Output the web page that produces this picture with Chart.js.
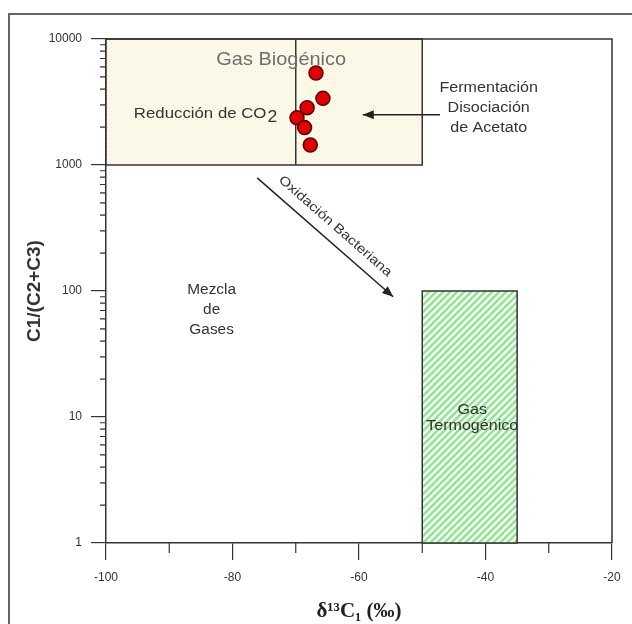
<!DOCTYPE html>
<html>
<head>
<meta charset="utf-8">
<script src="https://cdn.jsdelivr.net/npm/chart.js@4"></script>
<style>
  html, body { margin: 0; padding: 0; background: #fff; }
  #wrap { width: 632px; height: 624px; }
</style>
</head>
<body>
<div id="wrap"><canvas id="chart" width="632" height="624"></canvas></div>
<script>
// sample points: delta13C1 (per mil) and C1/(C2+C3)
const d13C = [-66.8, -65.7, -68.2, -69.8, -68.6, -67.7];
const ratio = [5370, 3380, 2850, 2370, 1980, 1440];

const xTicks = [-100, -80, -60, -40, -20];
const xMinorTicks = [-90, -70, -50, -30];
const yTicks = [1, 10, 100, 1000, 10000];

// genetic fields [xmin, xmax, ymin, ymax]
const biogenicBox = [-100, -50, 1000, 10000];
const co2Divider = -70;
const thermogenicBox = [-50, -35, 1, 100];

const SANS = '"Liberation Sans", Arial, sans-serif';

function dotPattern(ctx) {
  const c = document.createElement('canvas');
  c.width = 4; c.height = 4;
  const g = c.getContext('2d');
  g.fillStyle = '#fffbea';
  g.fillRect(0, 0, 4, 4);
  g.fillStyle = '#f1e9cf';
  g.fillRect(1, 1, 1, 1);
  g.fillRect(3, 3, 1, 1);
  return ctx.createPattern(c, 'repeat');
}

function hatchPattern(ctx) {
  const c = document.createElement('canvas');
  c.width = 7; c.height = 7;
  const g = c.getContext('2d');
  g.fillStyle = '#f6fff6';
  g.fillRect(0, 0, 7, 7);
  g.strokeStyle = '#96e296';
  g.lineWidth = 2.5;
  g.beginPath();
  g.moveTo(-1, 8); g.lineTo(8, -1);
  g.moveTo(-4.5, 4.5); g.lineTo(4.5, -4.5);
  g.moveTo(2.5, 11.5); g.lineTo(11.5, 2.5);
  g.stroke();
  return ctx.createPattern(c, 'repeat');
}

// text slightly widened, like the scanned original
function label(ctx, text, px, py, size, stretch, align) {
  ctx.save();
  ctx.font = size + 'px ' + SANS;
  ctx.textAlign = align || 'center';
  ctx.textBaseline = 'middle';
  ctx.translate(px, py);
  ctx.scale(stretch, 1);
  ctx.fillText(text, 0, 0);
  const w = ctx.measureText(text).width * stretch;
  ctx.restore();
  return w;
}

function arrow(ctx, x1, y1, x2, y2) {
  ctx.beginPath();
  ctx.moveTo(x1, y1);
  ctx.lineTo(x2, y2);
  ctx.stroke();
  const a = Math.atan2(y2 - y1, x2 - x1);
  const len = 11, w = 4.5;
  ctx.beginPath();
  ctx.moveTo(x2, y2);
  ctx.lineTo(x2 - len * Math.cos(a) + w * Math.sin(a), y2 - len * Math.sin(a) - w * Math.cos(a));
  ctx.lineTo(x2 - len * Math.cos(a) - w * Math.sin(a), y2 - len * Math.sin(a) + w * Math.cos(a));
  ctx.closePath();
  ctx.fill();
}

const overlay = {
  id: 'overlay',
  beforeDatasetsDraw(chart) {
    const { ctx, scales: { x, y } } = chart;
    ctx.save();
    // biogenic field
    let [x0, x1, y0, y1] = biogenicBox;
    let l = x.getPixelForValue(x0), r = x.getPixelForValue(x1);
    let t = y.getPixelForValue(y1), b = y.getPixelForValue(y0);
    ctx.fillStyle = dotPattern(ctx);
    ctx.fillRect(l, t, r - l, b - t);
    ctx.strokeStyle = '#333';
    ctx.lineWidth = 1.5;
    ctx.strokeRect(l, t, r - l, b - t);
    const xd = x.getPixelForValue(co2Divider);
    ctx.beginPath();
    ctx.moveTo(xd, t); ctx.lineTo(xd, b);
    ctx.stroke();

    // thermogenic field
    [x0, x1, y0, y1] = thermogenicBox;
    l = x.getPixelForValue(x0); r = x.getPixelForValue(x1);
    t = y.getPixelForValue(y1); b = y.getPixelForValue(y0);
    ctx.fillStyle = hatchPattern(ctx);
    ctx.fillRect(l, t, r - l, b - t);
    ctx.strokeRect(l, t, r - l, b - t);

    // labels
    ctx.fillStyle = '#6e6e6e';
    label(ctx, 'Gas Biogénico', x.getPixelForValue(-72.3), y.getPixelForValue(6900), 19, 1.05);

    ctx.fillStyle = '#333';
    const rx = x.getPixelForValue(-95.6), ry = y.getPixelForValue(2550);
    const wco = label(ctx, 'Reducción de CO', rx, ry, 14, 1.2, 'left');
    label(ctx, '2', rx + wco + 1, ry + 4, 16, 1.1, 'left');

    const fx = x.getPixelForValue(-39.5);
    label(ctx, 'Fermentación', fx, y.getPixelForValue(4050), 14, 1.15);
    label(ctx, 'Disociación', fx, y.getPixelForValue(2830), 14, 1.15);
    label(ctx, 'de Acetato', fx, y.getPixelForValue(1960), 14, 1.15);

    const mx = x.getPixelForValue(-83.3);
    label(ctx, 'Mezcla', mx, y.getPixelForValue(102), 14, 1.1);
    label(ctx, 'de', mx, y.getPixelForValue(71), 14, 1.1);
    label(ctx, 'Gases', mx, y.getPixelForValue(49), 14, 1.1);

    const gx = x.getPixelForValue(-42.1);
    label(ctx, 'Gas', gx, y.getPixelForValue(11.4), 14, 1.15);
    label(ctx, 'Termogénico', gx, y.getPixelForValue(8.4), 14, 1.15);

    // arrows
    ctx.strokeStyle = '#222';
    ctx.fillStyle = '#222';
    ctx.lineWidth = 1.5;
    arrow(ctx, x.getPixelForValue(-47.2), y.getPixelForValue(2500),
               x.getPixelForValue(-59.4), y.getPixelForValue(2500));
    const ax1 = x.getPixelForValue(-76.1), ay1 = y.getPixelForValue(790);
    const ax2 = x.getPixelForValue(-54.6), ay2 = y.getPixelForValue(90);
    arrow(ctx, ax1, ay1, ax2, ay2);

    ctx.save();
    const ang = Math.atan2(ay2 - ay1, ax2 - ax1);
    ctx.translate((ax1 + ax2) / 2 + 10, (ay1 + ay2) / 2 - 11);
    ctx.rotate(ang);
    ctx.fillStyle = '#333';
    label(ctx, 'Oxidación Bacteriana', 0, 0, 13, 1.18);
    ctx.restore();
    ctx.restore();
  },
  afterDraw(chart) {
    const { ctx, chartArea: a, scales: { x, y } } = chart;
    ctx.save();
    ctx.strokeStyle = '#333';
    ctx.lineWidth = 1.5;
    // top and right of the plot frame
    ctx.beginPath();
    ctx.moveTo(a.left, a.top); ctx.lineTo(a.right, a.top); ctx.lineTo(a.right, a.bottom);
    ctx.stroke();
    // minor ticks
    ctx.lineWidth = 1.2;
    ctx.beginPath();
    for (const v of xMinorTicks) {
      const px = x.getPixelForValue(v);
      ctx.moveTo(px, a.bottom); ctx.lineTo(px, a.bottom + 10);
    }
    for (let d = 1; d < 10000; d *= 10) {
      for (let k = 2; k <= 9; k++) {
        const py = y.getPixelForValue(k * d);
        ctx.moveTo(a.left - 6, py); ctx.lineTo(a.left, py);
      }
    }
    ctx.stroke();
    // outer picture frame
    ctx.strokeStyle = '#666';
    ctx.lineWidth = 2;
    ctx.beginPath();
    ctx.moveTo(9, 624); ctx.lineTo(9, 14); ctx.lineTo(632, 14);
    ctx.stroke();
    ctx.restore();
  }
};

new Chart(document.getElementById('chart'), {
  type: 'scatter',
  data: {
    datasets: [{
      data: d13C.map((v, i) => ({ x: v, y: ratio[i] })),
      backgroundColor: '#e00000',
      borderColor: '#5a0000',
      borderWidth: 1.5,
      pointRadius: 7,
      pointHoverRadius: 7
    }]
  },
  options: {
    responsive: false,
    animation: false,
    events: [],
    layout: { padding: { left: 0, top: 39, right: 20, bottom: 0 } },
    plugins: { legend: { display: false }, tooltip: { enabled: false } },
    scales: {
      x: {
        type: 'linear',
        min: -100,
        max: -20,
        afterBuildTicks: s => { s.ticks = xTicks.map(v => ({ value: v })); },
        afterFit: s => { s.height = 81; },
        grid: { drawOnChartArea: false, drawTicks: true, tickLength: 17, color: '#333', lineWidth: 1.2 },
        border: { display: true, color: '#333', width: 1.5 },
        ticks: { color: '#333', font: { family: 'Liberation Sans', size: 12 }, padding: 10 },
        title: {
          display: true,
          text: 'δ¹³C₁ (‰)',
          color: '#222',
          font: { family: '"Liberation Serif", "DejaVu Serif", serif', size: 21, weight: 'bold' },
          padding: { top: 0, bottom: 0 }
        }
      },
      y: {
        type: 'logarithmic',
        min: 1,
        max: 10000,
        afterBuildTicks: s => { s.ticks = yTicks.map(v => ({ value: v })); },
        afterFit: s => { s.width = 106; },
        grid: { drawOnChartArea: false, drawTicks: true, tickLength: 15, color: '#333', lineWidth: 1.2 },
        border: { display: true, color: '#333', width: 1.5 },
        ticks: { color: '#333', font: { family: 'Liberation Sans', size: 12 }, padding: 9, callback: v => String(v) },
        title: {
          display: true,
          text: 'C1/(C2+C3)',
          color: '#333',
          font: { family: SANS, size: 19, weight: 'bold' },
          padding: { top: 23, bottom: 0 }
        }
      }
    }
  },
  plugins: [overlay]
});
</script>
</body>
</html>
